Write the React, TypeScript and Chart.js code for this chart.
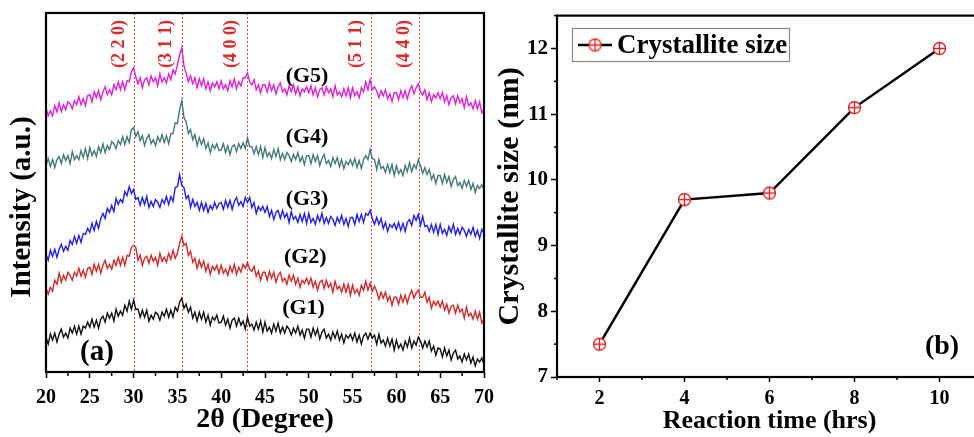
import React, { useEffect, useRef } from "react";
import { Chart, registerables } from "chart.js";

Chart.register(...registerables);

// ---------- Panel (a): XRD patterns (2θ from 20° to 70°, step 0.25°) ----------
const XRD_START = 20;
const XRD_STEP = 0.25;
const xrdTicks = [20, 25, 30, 35, 40, 45, 50, 55, 60, 65, 70];
const xrdMinorTicks = [22.5, 27.5, 32.5, 37.5, 42.5, 47.5, 52.5, 57.5, 62.5, 67.5];
const peakPositions = [30.05, 35.5, 42.9, 57.1, 62.6];
const peakLabels = ["(2 2 0)", "(3 1 1)", "(4 0 0)", "(5 1 1)", "(4 4 0)"];
const sampleNames = ["(G1)", "(G2)", "(G3)", "(G4)", "(G5)"];
const sampleColors = ["#111111", "#d42a2a", "#1f1ff0", "#447a76", "#de22de"];

const g1 = [
  35, 28, 38, 32, 39, 30, 38, 43, 35, 39, 34, 44, 39, 46, 38, 46, 38, 46, 44, 50,
  45, 53, 45, 52, 44, 53, 56, 50, 59, 54, 59, 51, 63, 56, 61, 57, 67, 61, 71, 63,
  72, 63, 63, 55, 62, 55, 62, 51, 57, 53, 60, 58, 52, 60, 56, 63, 55, 62, 55, 65,
  61, 70, 74, 64, 68, 60, 65, 54, 60, 51, 60, 53, 60, 50, 57, 47, 55, 52, 57, 49,
  50, 56, 47, 53, 44, 52, 54, 46, 54, 47, 51, 43, 55, 46, 48, 42, 50, 43, 51, 40,
  50, 41, 45, 39, 48, 41, 49, 39, 45, 39, 46, 43, 37, 44, 39, 46, 37, 42, 34, 43,
  43, 35, 44, 37, 43, 33, 40, 43, 34, 38, 32, 40, 34, 41, 32, 38, 29, 37, 34, 38,
  32, 39, 30, 37, 28, 36, 39, 33, 39, 34, 37, 28, 38, 29, 32, 26, 34, 26, 33, 22,
  32, 24, 28, 22, 31, 25, 34, 24, 31, 27, 35, 31, 24, 31, 25, 31, 21, 26, 17, 24,
  23, 15, 24, 16, 22, 12, 19, 22, 13, 16, 10, 18, 12, 18, 9, 15, 6, 13, 10, 14,
  8,
];
const g2 = [
  84, 78, 85, 81, 92, 88, 99, 90, 97, 92, 100, 97, 92, 100, 96, 104, 96, 102, 95, 104,
  105, 98, 108, 101, 108, 99, 107, 112, 104, 108, 103, 112, 107, 115, 107, 115, 107, 117, 116, 125,
  127, 125, 112, 117, 107, 114, 116, 109, 117, 111, 115, 107, 119, 111, 115, 110, 119, 113, 122, 114,
  119, 129, 136, 127, 129, 117, 121, 110, 114, 104, 112, 105, 111, 101, 108, 98, 106, 102, 107, 99,
  107, 99, 103, 97, 106, 100, 108, 98, 105, 100, 108, 104, 110, 103, 101, 106, 96, 101, 92, 100,
  100, 92, 101, 94, 100, 90, 97, 100, 91, 94, 88, 97, 91, 97, 88, 94, 85, 92, 89, 94,
  88, 94, 85, 91, 82, 90, 92, 84, 92, 85, 89, 80, 91, 83, 86, 80, 88, 80, 88, 77,
  87, 79, 83, 77, 87, 82, 91, 82, 89, 81, 86, 81, 73, 80, 74, 80, 71, 76, 67, 75,
  75, 68, 77, 70, 77, 69, 77, 82, 74, 79, 82, 75, 75, 80, 70, 75, 64, 71, 67, 71,
  65, 71, 62, 68, 59, 66, 67, 59, 67, 60, 63, 54, 65, 56, 59, 53, 61, 53, 60, 49,
  53,
];
const g3 = [
  118, 112, 122, 116, 123, 115, 123, 128, 121, 126, 122, 132, 128, 136, 129, 137, 130, 139, 138, 144,
  140, 149, 142, 151, 144, 154, 159, 154, 164, 160, 167, 161, 174, 168, 173, 170, 181, 177, 186, 179,
  183, 173, 175, 167, 175, 168, 176, 165, 171, 166, 173, 170, 165, 173, 169, 176, 168, 176, 171, 185,
  186, 198, 187, 185, 174, 177, 165, 173, 166, 170, 162, 170, 162, 169, 160, 167, 163, 170, 164, 169,
  170, 163, 172, 165, 172, 163, 171, 175, 167, 171, 166, 175, 170, 175, 165, 170, 159, 166, 162, 166,
  160, 166, 156, 162, 153, 160, 162, 154, 162, 155, 159, 150, 161, 153, 156, 150, 158, 151, 159, 149,
  159, 150, 154, 148, 157, 151, 159, 149, 155, 149, 156, 153, 147, 155, 150, 157, 148, 154, 146, 155,
  155, 148, 158, 151, 158, 150, 159, 157, 162, 154, 148, 155, 148, 154, 144, 150, 141, 148, 145, 149,
  143, 150, 142, 149, 141, 150, 153, 147, 157, 152, 158, 147, 156, 146, 147, 141, 148, 140, 148, 138,
  148, 139, 143, 137, 146, 140, 148, 138, 144, 138, 145, 142, 136, 143, 138, 145, 136, 142, 134, 143,
  139,
];
const g4 = [
  207, 214, 206, 213, 205, 213, 216, 209, 218, 212, 217, 209, 221, 213, 217, 213, 222, 215, 224, 214,
  225, 217, 222, 216, 226, 220, 229, 220, 227, 223, 231, 229, 224, 232, 228, 236, 228, 236, 230, 243,
  245, 236, 241, 232, 237, 227, 234, 238, 229, 233, 227, 236, 231, 238, 230, 237, 229, 239, 239, 250,
  249, 263, 272, 255, 251, 239, 243, 233, 238, 227, 235, 228, 234, 224, 230, 220, 228, 224, 229, 222,
  223, 229, 220, 227, 218, 226, 228, 221, 229, 224, 230, 224, 235, 226, 226, 219, 226, 218, 226, 215,
  225, 216, 220, 214, 223, 216, 224, 213, 219, 213, 220, 217, 211, 218, 213, 220, 211, 216, 208, 217,
  217, 209, 218, 211, 217, 207, 214, 218, 209, 212, 206, 215, 209, 215, 206, 213, 204, 211, 208, 213,
  207, 214, 205, 212, 204, 213, 217, 213, 223, 214, 213, 203, 213, 204, 206, 200, 208, 200, 208, 197,
  207, 199, 203, 197, 207, 201, 210, 201, 208, 204, 213, 207, 199, 205, 198, 203, 193, 198, 189, 197,
  197, 189, 198, 190, 196, 186, 193, 196, 187, 190, 184, 192, 186, 192, 183, 189, 180, 187, 184, 188,
  183,
];
const g5 = [
  265, 257, 262, 257, 267, 261, 270, 261, 268, 263, 271, 269, 264, 272, 268, 276, 268, 274, 267, 277,
  278, 271, 281, 275, 282, 273, 281, 286, 278, 283, 278, 288, 283, 291, 283, 291, 283, 292, 291, 301,
  305, 296, 289, 295, 285, 293, 295, 288, 297, 291, 295, 287, 299, 291, 295, 290, 299, 293, 303, 299,
  308, 318, 325, 307, 300, 291, 297, 289, 295, 285, 294, 287, 294, 284, 291, 282, 290, 286, 291, 284,
  292, 284, 288, 282, 292, 286, 294, 284, 291, 287, 295, 295, 300, 291, 288, 293, 283, 288, 280, 288,
  288, 281, 290, 282, 288, 279, 286, 290, 281, 284, 278, 287, 281, 288, 279, 286, 277, 284, 281, 286,
  280, 287, 278, 285, 276, 283, 285, 278, 286, 280, 284, 276, 287, 278, 281, 276, 284, 277, 285, 275,
  285, 277, 281, 275, 285, 281, 291, 283, 293, 283, 286, 282, 275, 282, 277, 283, 274, 279, 271, 280,
  280, 273, 282, 275, 282, 274, 282, 287, 279, 285, 289, 281, 278, 283, 273, 280, 271, 278, 275, 280,
  274, 280, 271, 277, 268, 275, 277, 269, 277, 270, 274, 265, 276, 267, 270, 264, 272, 264, 271, 260,
  264,
];
const xrdSeries = [g1, g2, g3, g4, g5];
// label anchors [2θ, intensity] for the sample names
const sampleLabelPos = [
  [49.4, 64],
  [49.6, 115],
  [49.8, 173],
  [49.8, 235],
  [49.8, 297],
];

// ---------- Panel (b): crystallite size ----------
const reactionTimes = [2, 4, 6, 8, 10];
const crystalliteSizes = [7.5, 9.7, 9.8, 11.1, 12.0];
const timeTicks = [2, 4, 6, 8, 10];
const timeMinorTicks = [1, 3, 5, 7, 9, 11];
const sizeTicks = [7, 8, 9, 10, 11, 12];
const sizeMinorTicks = [7.5, 8.5, 9.5, 10.5, 11.5, 12.5];

const FONT = "'Liberation Serif', 'Times New Roman', serif";

function makeMarker(): HTMLCanvasElement {
  const c = document.createElement("canvas");
  c.width = 15;
  c.height = 15;
  const ctx = c.getContext("2d")!;
  ctx.fillStyle = "#ffffff";
  ctx.strokeStyle = "#e02020";
  ctx.lineWidth = 1.3;
  ctx.beginPath();
  ctx.arc(7.5, 7.5, 6, 0, Math.PI * 2);
  ctx.fill();
  ctx.stroke();
  ctx.beginPath();
  ctx.moveTo(1.5, 7.5);
  ctx.lineTo(13.5, 7.5);
  ctx.moveTo(7.5, 1.5);
  ctx.lineTo(7.5, 13.5);
  ctx.stroke();
  return c;
}

function drawMinorX(chart: any, vals: number[], len: number) {
  const sc = chart.scales.x;
  const ctx = chart.ctx;
  const y0 = chart.chartArea.bottom;
  ctx.save();
  ctx.strokeStyle = "#000";
  ctx.lineWidth = 1.5;
  vals.forEach((v) => {
    const px = sc.getPixelForValue(v);
    ctx.beginPath();
    ctx.moveTo(px, y0);
    ctx.lineTo(px, y0 + len);
    ctx.stroke();
  });
  ctx.restore();
}

function drawFrame(chart: any) {
  const { left, right, top, bottom } = chart.chartArea;
  const ctx = chart.ctx;
  ctx.save();
  ctx.strokeStyle = "#000";
  ctx.lineWidth = 2.2;
  ctx.strokeRect(left, top, right - left, bottom - top);
  ctx.restore();
}

const xrdPlugin = {
  id: "xrdDecor",
  beforeDatasetsDraw(chart: any) {
    const ctx = chart.ctx;
    const xs = chart.scales.x;
    const { top, bottom } = chart.chartArea;
    ctx.save();
    ctx.strokeStyle = "#e04848";
    ctx.lineWidth = 1;
    ctx.setLineDash([2, 2]);
    peakPositions.forEach((p) => {
      const px = Math.round(xs.getPixelForValue(p)) + 0.5;
      ctx.beginPath();
      ctx.moveTo(px, top);
      ctx.lineTo(px, bottom);
      ctx.stroke();
    });
    ctx.restore();
  },
  afterDraw(chart: any) {
    const ctx = chart.ctx;
    const xs = chart.scales.x;
    const ys = chart.scales.y;
    drawFrame(chart);
    drawMinorX(chart, xrdMinorTicks, 4);
    ctx.save();
    ctx.fillStyle = "#d82c2c";
    ctx.font = `bold 18px ${FONT}`;
    ctx.textAlign = "center";
    ctx.textBaseline = "middle";
    peakPositions.forEach((p, i) => {
      const px = xs.getPixelForValue(p) - 15;
      ctx.save();
      ctx.translate(px, 44);
      ctx.rotate(-Math.PI / 2);
      ctx.fillText(peakLabels[i], 0, 0);
      ctx.restore();
    });
    ctx.fillStyle = "#000";
    ctx.font = `bold 22px ${FONT}`;
    sampleNames.forEach((n, i) => {
      const [a, v] = sampleLabelPos[i];
      ctx.fillText(n, xs.getPixelForValue(a), ys.getPixelForValue(v));
    });
    ctx.font = `bold 29px ${FONT}`;
    ctx.fillText("(a)", 97, 353);
    ctx.translate(23, 207);
    ctx.rotate(-Math.PI / 2);
    ctx.fillText("Intensity (a.u.)", 0, 0);
    ctx.restore();
  },
};

function makeSizePlugin(marker: HTMLCanvasElement) {
  return {
    id: "sizeDecor",
    afterDraw(chart: any) {
      const ctx = chart.ctx;
      drawFrame(chart);
      drawMinorX(chart, timeMinorTicks, 3);
      const ys = chart.scales.y;
      const x0 = chart.chartArea.left;
      ctx.save();
      ctx.strokeStyle = "#000";
      ctx.lineWidth = 1.5;
      sizeMinorTicks.forEach((v) => {
        const py = ys.getPixelForValue(v);
        ctx.beginPath();
        ctx.moveTo(x0, py);
        ctx.lineTo(x0 - 3, py);
        ctx.stroke();
      });
      // legend
      ctx.strokeStyle = "#8a8a8a";
      ctx.lineWidth = 1.2;
      ctx.strokeRect(82.5, 28.5, 217, 33);
      ctx.strokeStyle = "#000";
      ctx.lineWidth = 2.5;
      ctx.beginPath();
      ctx.moveTo(88, 45);
      ctx.lineTo(122, 45);
      ctx.stroke();
      ctx.drawImage(marker, 105 - 7.5, 45 - 7.5);
      ctx.fillStyle = "#000";
      ctx.font = `bold 27px ${FONT}`;
      ctx.textAlign = "left";
      ctx.textBaseline = "middle";
      ctx.fillText("Crystallite size", 127, 46);
      ctx.textAlign = "center";
      ctx.font = `bold 28px ${FONT}`;
      ctx.fillText("(b)", 452, 347);
      ctx.restore();
    },
  };
}

const tickFont = { family: FONT, weight: "bold" as const, size: 20 };

export default function App() {
  const ref1 = useRef<HTMLCanvasElement>(null);
  const ref2 = useRef<HTMLCanvasElement>(null);

  useEffect(() => {
    const toPts = (arr: number[]) =>
      arr.map((y, i) => ({ x: XRD_START + i * XRD_STEP, y }));

    const c1 = new Chart(ref1.current!, {
      type: "line",
      data: {
        datasets: xrdSeries.map((s, i) => ({
          label: sampleNames[i],
          data: toPts(s),
          borderColor: sampleColors[i],
          borderWidth: 1.4,
          pointRadius: 0,
          tension: 0,
          fill: false,
        })),
      },
      options: {
        responsive: false,
        animation: false,
        devicePixelRatio: 1,
        layout: { padding: { top: 13, right: 26, left: 0, bottom: 0 } },
        plugins: { legend: { display: false }, tooltip: { enabled: false } },
        scales: {
          x: {
            type: "linear",
            min: 20,
            max: 70,
            afterBuildTicks: (s: any) => {
              s.ticks = xrdTicks.map((v) => ({ value: v }));
            },
            afterFit: (s: any) => {
              s.height = 65;
            },
            grid: { drawOnChartArea: false, drawTicks: true, tickLength: 6, tickWidth: 1.5, tickColor: "#000" },
            border: { display: false },
            ticks: { color: "#000", font: tickFont, padding: 8, maxRotation: 0, autoSkip: false },
            title: {
              display: true,
              text: "2θ (Degree)",
              color: "#000",
              font: { family: FONT, weight: "bold", size: 28 },
              padding: { top: 0, bottom: 0 },
            },
          },
          y: {
            type: "linear",
            min: 0,
            max: 360,
            afterFit: (s: any) => {
              s.width = 46;
            },
            ticks: { display: false },
            grid: { display: false },
            border: { display: false },
          },
        },
      },
      plugins: [xrdPlugin],
    } as any);

    const marker = makeMarker();
    const c2 = new Chart(ref2.current!, {
      type: "line",
      data: {
        datasets: [
          {
            label: "Crystallite size",
            data: reactionTimes.map((t, i) => ({ x: t, y: crystalliteSizes[i] })),
            borderColor: "#000",
            borderWidth: 2.5,
            pointStyle: marker,
            pointRadius: 6,
            tension: 0,
            fill: false,
          },
        ],
      },
      options: {
        responsive: false,
        animation: false,
        devicePixelRatio: 1,
        layout: { padding: { top: 15, right: 18, left: 0, bottom: 0 } },
        plugins: { legend: { display: false }, tooltip: { enabled: false } },
        scales: {
          x: {
            type: "linear",
            min: 1,
            max: 11,
            afterBuildTicks: (s: any) => {
              s.ticks = timeTicks.map((v) => ({ value: v }));
            },
            afterFit: (s: any) => {
              s.height = 60;
            },
            grid: { drawOnChartArea: false, drawTicks: true, tickLength: 5, tickWidth: 1.5, tickColor: "#000" },
            border: { display: false },
            ticks: { color: "#000", font: tickFont, padding: 5, maxRotation: 0, autoSkip: false },
            title: {
              display: true,
              text: "Reaction time (hrs)",
              color: "#000",
              font: { family: FONT, weight: "bold", size: 26 },
              padding: { top: 0, bottom: 0 },
            },
          },
          y: {
            type: "linear",
            min: 7,
            max: 12.5,
            afterBuildTicks: (s: any) => {
              s.ticks = sizeTicks.map((v) => ({ value: v }));
            },
            afterFit: (s: any) => {
              s.width = 67;
            },
            grid: { drawOnChartArea: false, drawTicks: true, tickLength: 6, tickWidth: 1.5, tickColor: "#000" },
            border: { display: false },
            ticks: { color: "#000", font: { family: FONT, weight: "bold", size: 21 }, padding: 3, autoSkip: false },
            title: {
              display: true,
              text: "Crystallite size (nm)",
              color: "#000",
              font: { family: FONT, weight: "bold", size: 30 },
              padding: { top: 2, bottom: 0 },
            },
          },
        },
      },
      plugins: [makeSizePlugin(marker)],
    } as any);

    return () => {
      c1.destroy();
      c2.destroy();
    };
  }, []);

  return (
    <div
      style={{
        position: "absolute",
        left: 0,
        top: 0,
        width: 974,
        height: 437,
        overflow: "hidden",
        background: "#ffffff",
      }}
    >
      <div style={{ position: "absolute", left: 0, top: 0, width: 510, height: 437 }}>
        <canvas ref={ref1} width={510} height={437} style={{ display: "block" }} />
      </div>
      <div style={{ position: "absolute", left: 490, top: 0, width: 510, height: 437 }}>
        <canvas ref={ref2} width={510} height={437} style={{ display: "block" }} />
      </div>
    </div>
  );
}
